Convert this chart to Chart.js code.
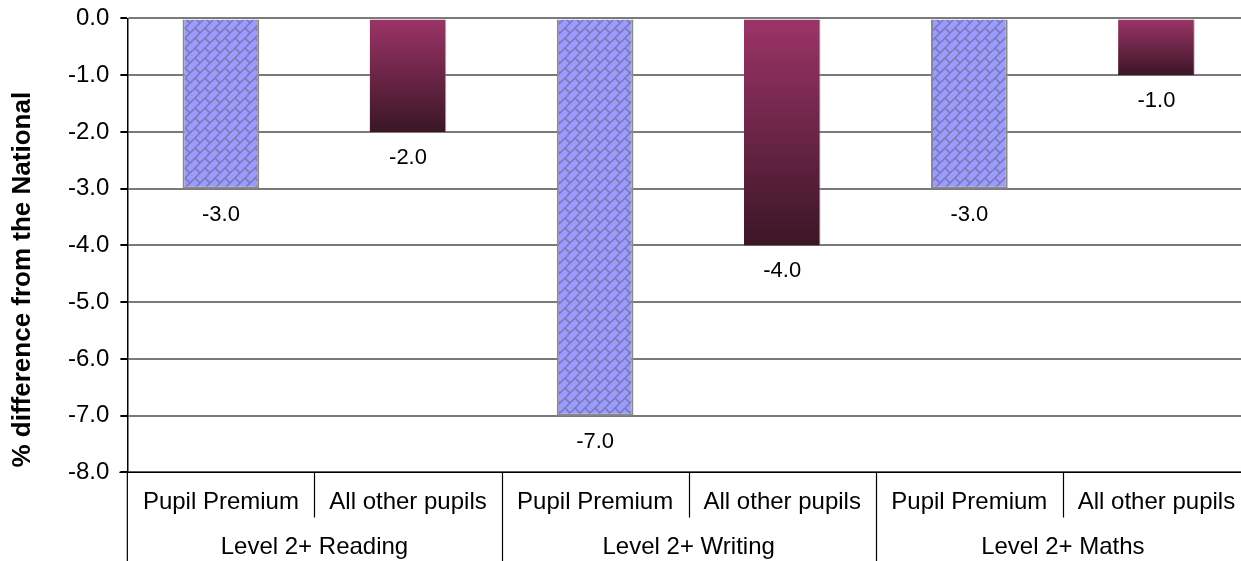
<!DOCTYPE html>
<html><head><meta charset="utf-8">
<script src="https://cdn.jsdelivr.net/npm/chart.js@4"></script>
<style>html,body{margin:0;padding:0;background:#fff;overflow:hidden}canvas{display:block;margin-top:-7px}</style>
</head><body>
<canvas id="c" width="1252" height="568"></canvas>
<script>
// ---- data ----
const groupLabels = ['Level 2+ Reading', 'Level 2+ Writing', 'Level 2+ Maths'];
const seriesNames = ['Pupil Premium', 'All other pupils'];
const pupilPremium = [-3.0, -7.0, -3.0];
const allOtherPupils = [-2.0, -4.0, -1.0];
const yTitle = '% difference from the National';
const yMin = -8, yMax = 0, yStep = 1;

// ---- build table ----
const subLabels = [];
const ppData = [], otherData = [];
groupLabels.forEach((g, i) => {
  subLabels.push(seriesNames[0], seriesNames[1]);
  ppData.push(pupilPremium[i], null);
  otherData.push(null, allOtherPupils[i]);
});

const FONT = "'Liberation Sans', Arial, sans-serif";

function makeBrick() {
  const s = 10;
  const cv = document.createElement('canvas');
  cv.width = s; cv.height = s;
  const c = cv.getContext('2d');
  c.fillStyle = '#9a9aff';
  c.fillRect(0, 0, s, s);
  c.strokeStyle = '#7878b0';
  c.lineWidth = 1.5;
  c.beginPath();
  c.moveTo(-1, s + 1); c.lineTo(s + 1, -1);
  c.moveTo(s / 2, s / 2); c.lineTo(s + 1, s + 1);
  c.moveTo(-1, -1); c.lineTo(0.5, 0.5);
  c.stroke();
  return c.createPattern(cv, 'repeat');
}
const brick = makeBrick();

function gradientFor(ctx) {
  const chart = ctx.chart;
  if (!chart.chartArea || ctx.raw == null) return '#7a2a52';
  const y = chart.scales.y;
  const y0 = y.getPixelForValue(0), y1 = y.getPixelForValue(ctx.raw);
  const g = chart.ctx.createLinearGradient(0, y0, 0, y1);
  g.addColorStop(0, '#9c3468');
  g.addColorStop(1, '#3b1626');
  return g;
}

const labelPlugin = {
  id: 'valueLabels',
  afterDatasetsDraw(chart) {
    const c = chart.ctx;
    c.save();
    c.font = '22px ' + FONT;
    c.fillStyle = '#000';
    c.textAlign = 'center';
    c.textBaseline = 'middle';
    chart.data.datasets.forEach((ds, di) => {
      chart.getDatasetMeta(di).data.forEach((el, i) => {
        const v = ds.data[i];
        if (v == null) return;
        c.fillText(v.toFixed(1), el.x, el.y + 26);
      });
    });
    c.restore();
  }
};

const sepPlugin = {
  id: 'separators',
  afterDraw(chart) {
    const c = chart.ctx;
    const x = chart.scales.x;
    const area = chart.chartArea;
    const H = chart.height;
    c.save();
    c.strokeStyle = '#000';
    c.lineWidth = 1.2;
    c.beginPath();
    c.moveTo(area.left, area.bottom); c.lineTo(area.left, H);
    for (let i = 1; i < subLabels.length; i++) {
      const px = Math.round((x.getPixelForValue(i - 1) + x.getPixelForValue(i)) / 2) + 0.5;
      c.moveTo(px, area.bottom);
      c.lineTo(px, i % 2 === 0 ? H : area.bottom + 45);
    }
    c.moveTo(area.left - 8, area.bottom); c.lineTo(area.right, area.bottom);
    c.stroke();
    // y-axis title
    c.translate(23, (area.top + H) / 2 - 10);
    c.rotate(-Math.PI / 2);
    c.font = 'bold 26px ' + FONT;
    c.fillStyle = '#000';
    c.textAlign = 'center';
    c.textBaseline = 'middle';
    c.fillText(yTitle, 0, 0);
    c.restore();
  }
};

new Chart(document.getElementById('c'), {
  type: 'bar',
  data: {
    labels: subLabels,
    datasets: [
      { label: seriesNames[0], data: ppData, backgroundColor: brick, borderColor: '#8a8a8a', borderWidth: 2 },
      { label: seriesNames[1], data: otherData, backgroundColor: gradientFor, borderColor: 'rgba(190,120,160,0.6)', borderWidth: { left: 0, right: 1, top: 0, bottom: 0 } }
    ]
  },
  options: {
    responsive: false,
    animation: false,
    skipNull: true,
    categoryPercentage: 1.0,
    barPercentage: 0.41,
    layout: { padding: { left: 57, right: 2, top: 0, bottom: 0 } },
    plugins: { legend: { display: false }, tooltip: { enabled: false } },
    scales: {
      x: {
        type: 'category',
        grid: { display: false },
        border: { display: false },
        ticks: { color: '#000', font: { size: 24, family: FONT }, padding: 8, maxRotation: 0, autoSkip: false }
      },
      x2: {
        type: 'category',
        position: 'bottom',
        labels: groupLabels,
        grid: { display: false },
        border: { display: false },
        ticks: { color: '#000', font: { size: 24, family: FONT }, padding: -0.5, maxRotation: 0 }
      },
      y: {
        min: yMin, max: yMax,
        ticks: { stepSize: yStep, color: '#000', font: { size: 24, family: FONT }, padding: 11, callback: v => Number(v).toFixed(1) },
        grid: { color: '#7a7a7a', lineWidth: 2, tickLength: 7, tickColor: '#000' },
        border: { color: '#000', width: 1.5 },
        title: { display: false }
      }
    }
  },
  plugins: [labelPlugin, sepPlugin]
});
</script>
</body></html>
